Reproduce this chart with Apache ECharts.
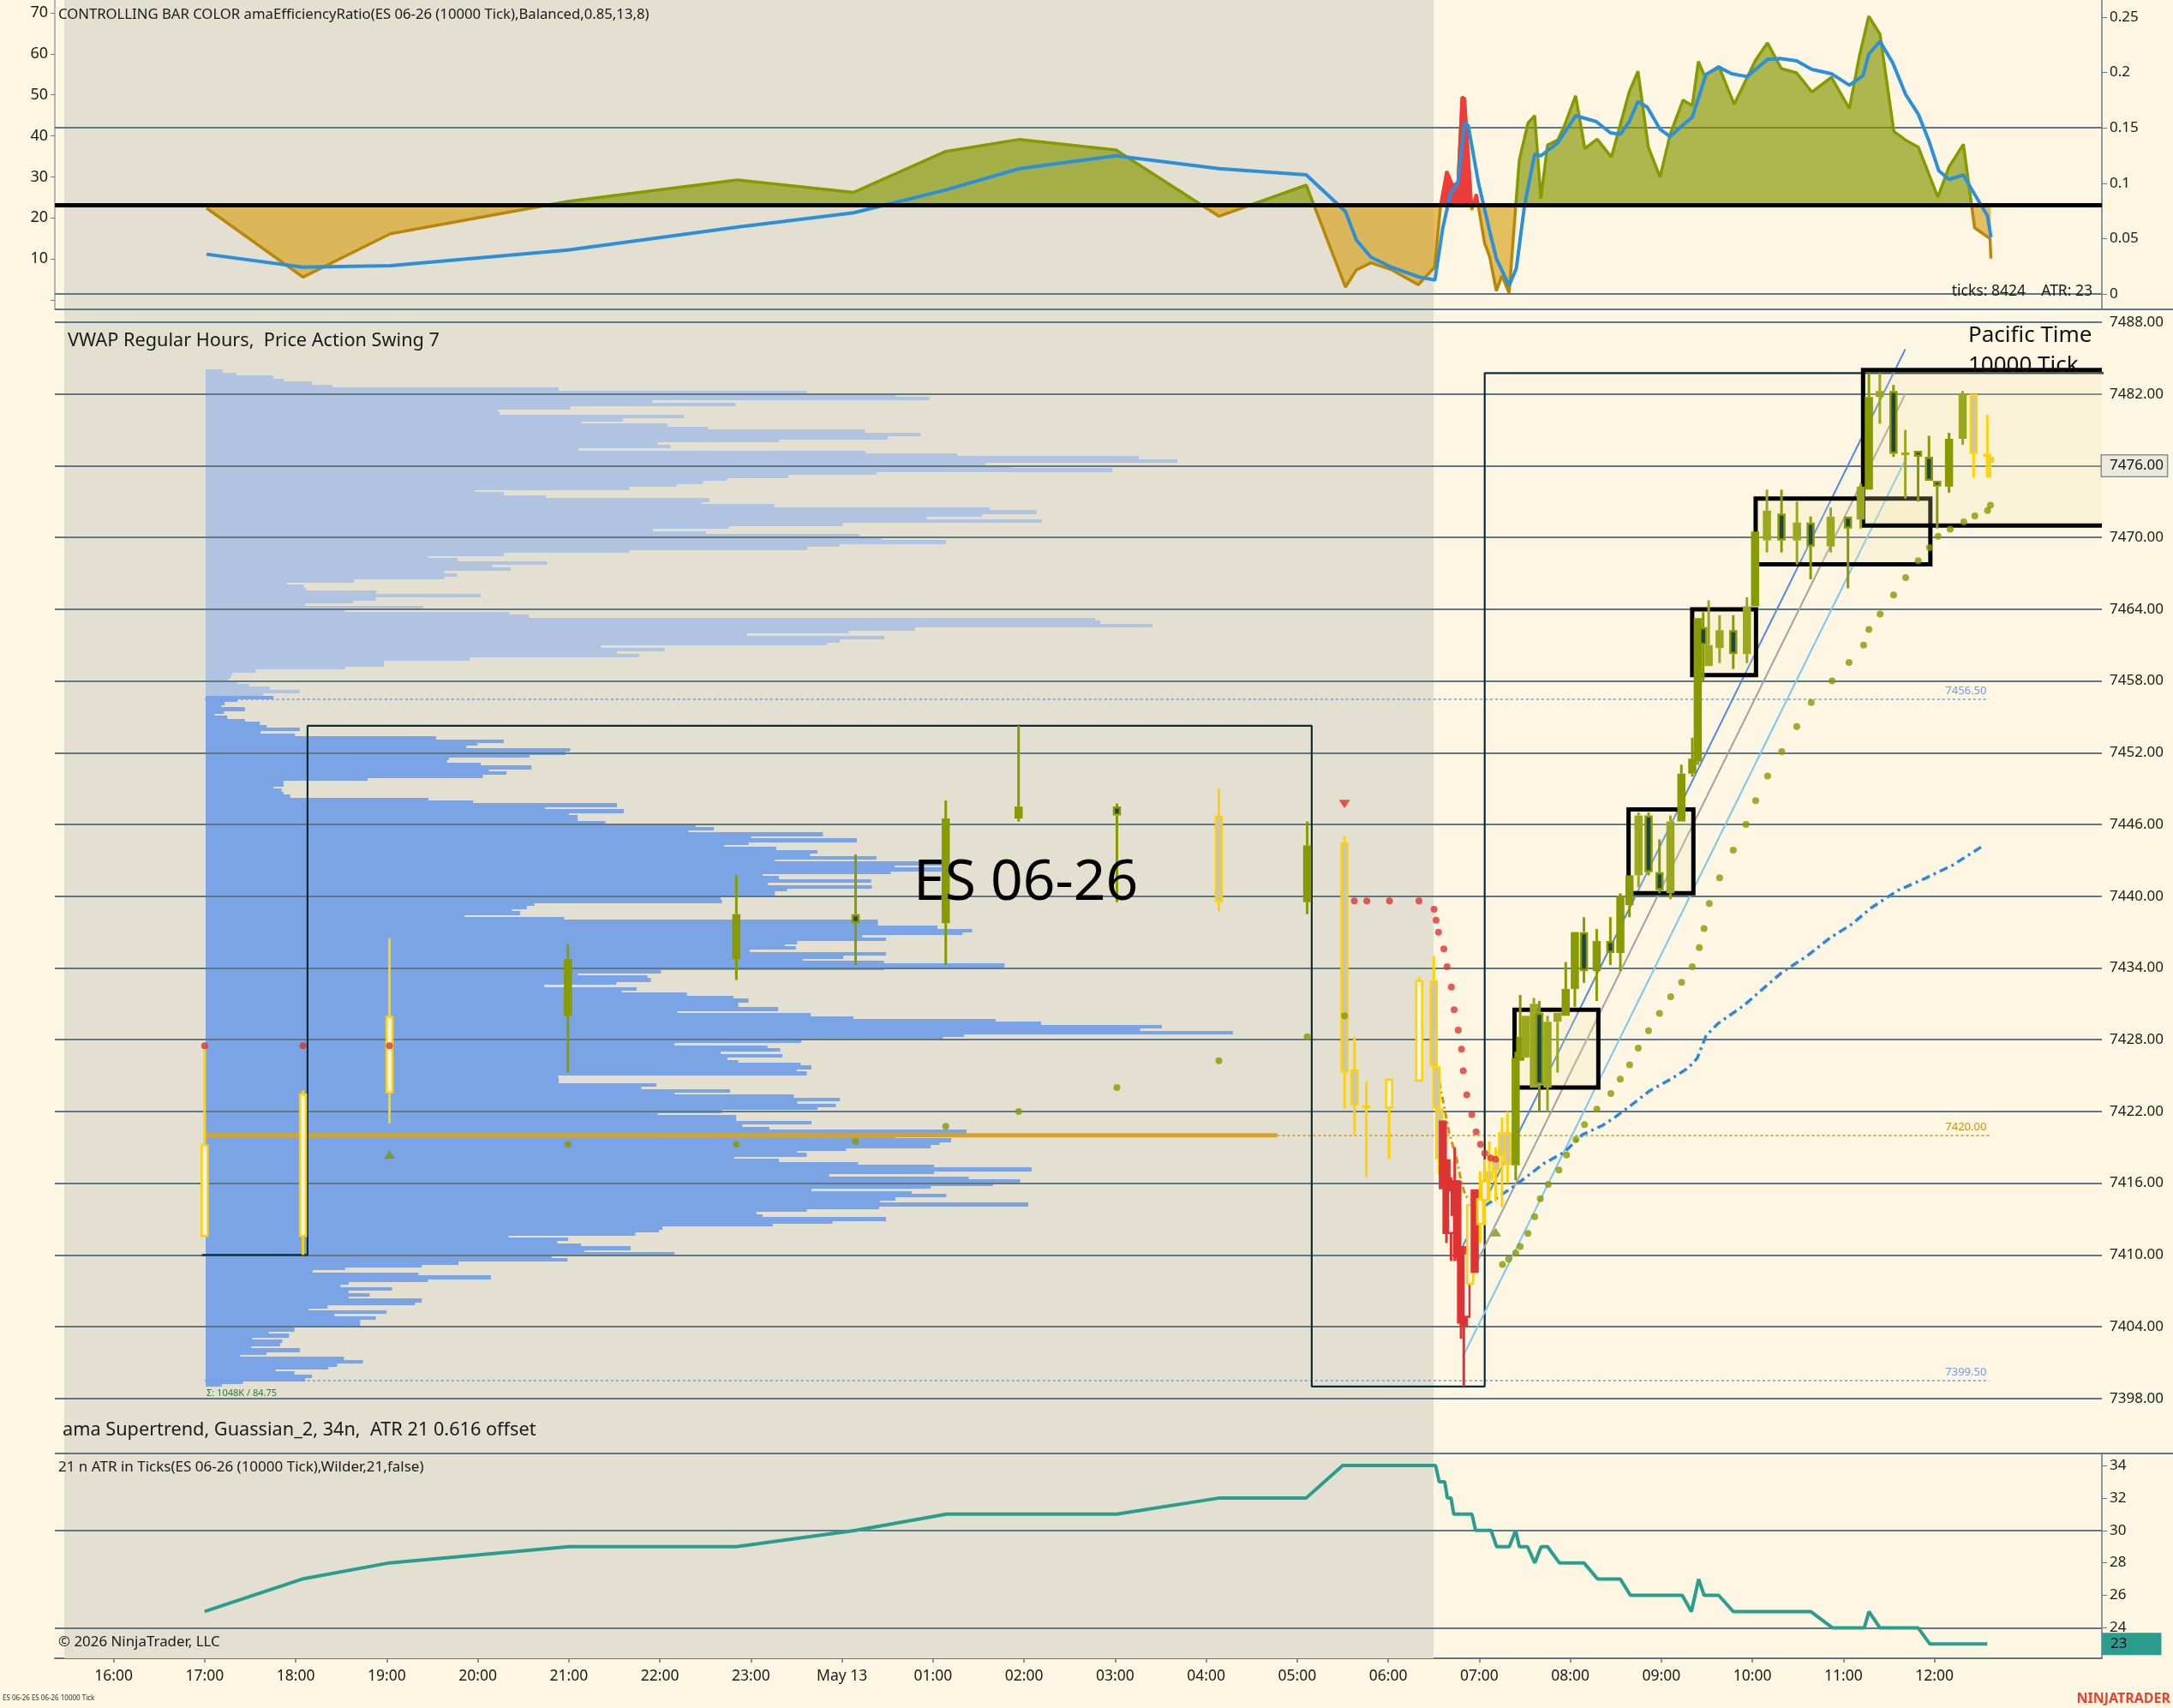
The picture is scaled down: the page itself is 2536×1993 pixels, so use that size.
<!DOCTYPE html>
<html><head><meta charset="utf-8">
<script src="https://cdn.jsdelivr.net/npm/echarts@6/dist/echarts.min.js"></script>
<style>html,body{margin:0;padding:0;background:#FDF6E3;}#c{width:2536px;height:1993px;}</style>
</head><body><div id="c"></div>
<script>
// ---------------- DATA ----------------
const hourTicks = [16,17,18,19,20,21,22,23,24,25,26,27,28,29,30,31,32,33,34,35,36];
const priceTicks = [7398,7404,7410,7416,7422,7428,7434,7440,7446,7452,7458,7464,7470,7476,7482,7488];
const erTicks = [0,0.05,0.1,0.15,0.2,0.25];
const erLeftTicks = [0,10,20,30,40,50,60,70];
const erLeftLabels = [10,20,30,40,50,60,70];
const atrTicks = [24,26,28,30,32,34];
const ER_THRESHOLD = 0.082;
const RED_PERIOD = [30.57, 31.06];
const SESSION_GRAY = [15.458, 30.5];

// efficiency ratio [time(h), value]
const erData = [[17.02,0.0776],[18.08,0.0152],[19.04,0.0544],[20.99,0.0836],[22.85,0.103],[24.13,0.0918],[25.14,0.1287],[25.95,0.1396],[27.01,0.130],[28.14,0.0702],[29.10,0.0983],[29.53,0.0062],[29.65,0.0217],[29.81,0.0281],[30.04,0.0217],[30.33,0.0083],[30.51,0.0242],[30.575,0.0797],[30.643,0.1107],[30.71,0.0978],[30.766,0.1004],[30.811,0.1778],[30.839,0.1765],[30.918,0.0759],[30.968,0.090],[31.058,0.0462],[31.115,0.0333],[31.188,0.0028],[31.249,0.0165],[31.328,0.001],[31.396,0.0745],[31.44,0.121],[31.536,0.1545],[31.609,0.161],[31.677,0.0862],[31.75,0.1344],[31.862,0.139],[31.935,0.1519],[32.059,0.179],[32.16,0.1313],[32.295,0.1398],[32.452,0.1236],[32.649,0.1829],[32.744,0.201],[32.857,0.1326],[32.986,0.1055],[33.098,0.1442],[33.239,0.1752],[33.34,0.170],[33.407,0.21],[33.474,0.1971],[33.632,0.2056],[33.8,0.1713],[34.036,0.2113],[34.166,0.2268],[34.317,0.2036],[34.486,0.1997],[34.654,0.1824],[34.868,0.1958],[35.065,0.1674],[35.177,0.2152],[35.278,0.2508],[35.402,0.2345],[35.554,0.1468],[35.683,0.139],[35.823,0.1326],[36.037,0.0875],[36.16,0.1146],[36.318,0.1352],[36.441,0.0598],[36.61,0.05],[36.62,0.032]];
const erSignal = [[17.02,0.0359],[18.08,0.0242],[19.04,0.0255],[20.99,0.0397],[22.85,0.0604],[24.13,0.0733],[25.14,0.0939],[25.95,0.1132],[27.01,0.1248],[28.14,0.1132],[29.10,0.1076],[29.53,0.0745],[29.65,0.0488],[29.81,0.0333],[30.04,0.024],[30.345,0.0152],[30.513,0.0126],[30.598,0.059],[30.682,0.09],[30.766,0.1004],[30.839,0.1545],[30.879,0.152],[30.991,0.1004],[31.115,0.0565],[31.188,0.032],[31.328,0.0075],[31.407,0.023],[31.497,0.0797],[31.609,0.1262],[31.677,0.1248],[31.862,0.1364],[32.059,0.161],[32.283,0.1558],[32.441,0.1455],[32.553,0.1442],[32.649,0.1558],[32.744,0.1739],[32.845,0.1687],[32.986,0.1488],[33.098,0.1422],[33.211,0.1507],[33.34,0.1597],[33.407,0.1765],[33.491,0.1984],[33.632,0.2048],[33.772,0.1989],[33.941,0.1963],[34.166,0.2118],[34.306,0.2126],[34.486,0.2105],[34.654,0.2028],[34.868,0.1989],[35.065,0.1886],[35.216,0.1971],[35.278,0.2165],[35.402,0.2281],[35.542,0.2087],[35.683,0.1803],[35.823,0.1623],[35.936,0.139],[36.048,0.1112],[36.16,0.1035],[36.318,0.1074],[36.441,0.09],[36.582,0.0707],[36.621,0.0513]];

// candles: [time(h), open, high, low, close, kind]  kind: 0 olive,1 light olive,2 dark-body,3 yellow/gray,4 yellow hollow,5 red,6 red hollow
const candles = [
[17.00,7411.5,7427.5,7411.5,7419.25,4],[18.08,7411.5,7423.75,7410.0,7423.5,4],[19.03,7423.5,7436.5,7421.0,7430.0,4],
[20.99,7430.0,7436.0,7425.25,7434.75,0],[22.84,7434.75,7441.75,7433.0,7438.5,0],[24.15,7438.5,7443.5,7434.25,7437.75,2],
[25.14,7437.75,7448.0,7434.25,7446.5,0],[25.94,7446.5,7454.25,7446.25,7447.5,0],[27.02,7447.5,7447.75,7439.5,7446.75,2],
[28.14,7446.75,7449.0,7438.75,7439.5,3],[29.11,7439.5,7446.25,7438.5,7444.25,0],[29.52,7444.5,7445.0,7422.25,7425.25,3],
[29.63,7425.5,7428.25,7420.0,7422.5,3],[29.76,7422.5,7424.5,7416.5,7422.25,3],[30.01,7422.25,7424.75,7418.0,7424.75,4],
[30.34,7424.5,7433.25,7424.5,7433.0,4],[30.50,7433.0,7435.0,7425.5,7425.75,3],[30.53,7425.75,7427.75,7422.0,7422.25,3],
[30.56,7422.25,7422.25,7416.75,7418.0,3],[30.60,7421.25,7421.25,7415.5,7415.5,5],[30.64,7418.0,7418.0,7411.0,7411.75,5],
[30.69,7411.75,7416.5,7409.5,7415.5,6],[30.73,7416.25,7419.0,7409.5,7413.25,5],[30.76,7416.25,7416.25,7409.5,7409.75,5],
[30.80,7410.75,7410.75,7403.0,7404.25,5],[30.83,7404.75,7404.75,7399.0,7404.0,5],[30.86,7404.75,7410.75,7404.0,7410.25,6],
[30.90,7407.5,7414.25,7407.5,7414.25,4],[30.95,7415.5,7415.5,7408.5,7408.5,5],[31.01,7412.5,7417.0,7411.0,7414.75,4],
[31.06,7414.5,7418.0,7412.5,7416.25,4],[31.11,7417.0,7419.5,7414.5,7416.25,3],[31.18,7418.0,7419.0,7414.5,7417.0,3],
[31.25,7420.25,7421.5,7414.0,7418.25,3],[31.31,7420.25,7422.0,7416.0,7417.5,3],[31.40,7417.5,7427.0,7416.25,7426.5,0],
[31.45,7426.25,7431.75,7426.25,7428.25,0],[31.51,7426.5,7430.0,7426.5,7430.0,1],[31.60,7424.0,7431.5,7424.0,7431.0,1],
[31.66,7430.25,7431.25,7422.0,7424.25,2],[31.75,7424.0,7430.0,7422.0,7429.5,1],[31.86,7429.5,7430.25,7425.25,7430.25,1],
[31.95,7430.0,7434.5,7430.0,7432.25,0],[32.05,7432.25,7437.0,7430.75,7437.0,0],[32.15,7437.0,7438.25,7432.75,7433.75,2],
[32.29,7433.75,7437.25,7431.25,7436.25,0],[32.44,7436.25,7438.25,7434.25,7435.25,2],[32.55,7435.25,7440.25,7433.75,7440.0,0],
[32.65,7439.25,7441.75,7438.25,7441.75,0],[32.75,7441.75,7447.0,7440.75,7446.75,1],[32.86,7446.75,7447.0,7441.75,7442.0,2],
[32.98,7442.0,7444.75,7440.25,7440.5,2],[33.10,7440.25,7446.75,7439.75,7446.25,1],[33.22,7446.25,7451.0,7446.25,7450.25,0],
[33.34,7450.25,7453.25,7450.0,7451.5,0],[33.40,7451.25,7463.25,7451.0,7463.25,0],[33.46,7462.5,7463.75,7458.0,7461.0,2],
[33.52,7459.25,7464.75,7459.25,7461.0,1],[33.64,7460.75,7463.5,7459.5,7462.25,1],[33.79,7462.25,7463.5,7459.0,7460.25,2],
[33.94,7460.25,7465.0,7459.5,7464.25,1],[34.03,7464.25,7470.5,7464.25,7470.5,0],[34.16,7469.75,7474.0,7468.75,7472.25,1],
[34.32,7472.0,7474.0,7468.75,7469.75,2],[34.49,7469.75,7473.0,7467.75,7471.25,1],[34.64,7471.25,7471.75,7466.5,7469.25,2],
[34.86,7469.25,7472.5,7468.75,7471.75,1],[35.05,7471.75,7471.75,7465.75,7470.75,2],[35.19,7471.5,7474.5,7470.75,7474.25,1],
[35.28,7474.0,7483.75,7474.0,7481.75,0],[35.40,7481.75,7483.75,7479.5,7482.25,1],[35.55,7482.25,7482.75,7476.75,7477.0,2],
[35.68,7477.0,7479.0,7473.25,7477.0,1],[35.82,7477.25,7477.25,7473.0,7476.75,2],[35.94,7476.75,7478.5,7474.75,7474.75,2],
[36.03,7474.75,7474.75,7470.75,7474.25,2],[36.16,7474.25,7478.75,7473.75,7478.25,0],[36.31,7478.25,7482.25,7477.75,7482.0,1],
[36.43,7482.0,7482.0,7475.0,7477.0,3],[36.58,7477.0,7480.25,7475.0,7476.75,3],[36.61,7476.75,7476.75,7475.0,7476.25,3]
];

// supertrend dots [time, price]
const stRed = [[17.0,7427.5],[18.08,7427.5],[19.03,7427.5],[29.628,7439.6],[29.765,7439.6],[30.014,7439.6],[30.338,7439.6],[30.503,7438.9],[30.526,7438.0],[30.552,7437.0],[30.611,7435.6],[30.646,7434.1],[30.694,7432.4],[30.724,7430.5],[30.769,7428.8],[30.805,7427.2],[30.824,7425.4],[30.863,7423.4],[30.918,7421.75],[30.966,7420.3],[31.013,7419.25],[31.061,7418.5],[31.126,7418.1],[31.181,7418.0]];
const stOlive = [[20.99,7419.25],[22.84,7419.25],[24.15,7419.5],[25.14,7420.75],[25.94,7422.0],[27.02,7424.0],[28.14,7426.25],[29.11,7428.25],[29.52,7430.0],[31.255,7409.2],[31.323,7409.65],[31.401,7410.15],[31.45,7410.7],[31.534,7411.8],[31.609,7413.2],[31.671,7414.7],[31.758,7415.9],[31.875,7417.1],[31.959,7418.35],[32.062,7419.65],[32.156,7420.9],[32.292,7422.2],[32.445,7423.5],[32.549,7424.7],[32.652,7425.9],[32.746,7427.3],[32.859,7428.75],[32.98,7430.2],[33.103,7431.6],[33.223,7432.8],[33.339,7434.1],[33.417,7435.7],[33.469,7437.3],[33.527,7439.4],[33.64,7441.55],[33.79,7443.85],[33.93,7446.0],[34.036,7448.0],[34.168,7450.05],[34.323,7452.1],[34.488,7454.2],[34.647,7456.2],[34.875,7458.0],[35.062,7459.55],[35.222,7461.0],[35.28,7462.3],[35.403,7463.6],[35.551,7465.2],[35.684,7466.65],[35.822,7468.05],[35.945,7469.15],[36.04,7470.1],[36.173,7470.7],[36.322,7471.3],[36.444,7471.8],[36.583,7472.25],[36.615,7472.7]];
const trendUp = [[19.03,7418.4],[31.18,7411.9]];
const trendDown = [[29.52,7447.7]];
const goldTrail = [[30.56,7424.5],[30.61,7422.6],[30.67,7420.2],[30.75,7418.1],[30.80,7416.2],[30.85,7414.9],[30.93,7414.6]];
const vwap = [[31.061,7414.1],[31.19,7414.75],[31.353,7415.6],[31.514,7416.5],[31.709,7417.65],[31.936,7418.6],[32.131,7420.05],[32.358,7420.85],[32.488,7421.5],[32.681,7422.6],[32.876,7423.75],[33.103,7424.7],[33.297,7425.65],[33.394,7426.45],[33.492,7428.35],[33.622,7429.35],[33.913,7430.9],[34.107,7432.2],[34.328,7433.65],[34.6,7435.0],[34.85,7436.5],[35.1,7437.7],[35.3,7439.0],[35.6,7440.5],[35.9,7441.5],[36.2,7442.6],[36.55,7444.3]];
const swingPath = [[16.97,7410.0],[18.13,7410.0],[18.13,7454.25],[29.16,7454.25],[29.16,7399.0],[31.06,7399.0],[31.06,7483.75],[38.5,7483.75]];
const channelUpper = [[30.82,7410.75],[35.68,7485.75]];
const channelMid = [[30.82,7407.0],[35.68,7482.0]];
const channelLower = [[30.82,7401.5],[35.68,7476.5]];
// consolidation boxes [tStart, tEnd, priceTop, priceBottom]
const boxes = [[31.388,32.308,7430.5,7424.0],[32.64,33.352,7447.25,7440.25],[33.339,34.04,7464.0,7458.5],[34.036,35.955,7473.25,7467.75],[35.216,38.5,7484.0,7471.0]];

// volume profile (rows top to bottom)
const PROFILE_START = 17.0;
const LIGHT_RANGE = [7484.0, 7456.75];
const VA_RANGE = [7456.75, 7399.0];
const lightVol = [25,45,100,115,157,187,521,887,1019,1068,659,782,538,431,434,706,616,554,682,741,973,1055,1007,846,667,686,550,974,1109,1377,1434,1151,1188,1338,990,860,770,734,695,625,397,440,502,743,732,839,1157,1226,1146,1064,1234,940,772,660,738,965,998,1092,936,888,625,440,329,372,504,423,450,352,371,352,219,120,145,148,252,406,251,218,147,321,205,448,477,1313,1320,1397,1047,949,799,1002,936,917,583,677,607,640,390,263,263,206,74,39,37,34,46,64,95,139,85];
const vaVol = [100,47,28,23,58,27,13,32,58,80,90,139,81,132,340,440,401,385,538,531,478,359,356,406,481,418,444,409,239,115,115,100,112,115,125,329,395,607,501,617,536,549,549,590,723,750,712,911,805,961,801,765,842,903,892,990,840,1093,1017,1086,1011,822,846,982,830,983,858,840,840,760,762,485,474,452,464,382,529,992,992,1080,1131,1117,969,1004,873,855,871,803,1004,941,881,1001,1179,1001,672,549,652,657,606,500,636,614,710,779,801,786,786,845,696,893,956,1166,1233,1411,1379,1516,1119,1088,879,692,829,848,760,851,770,786,878,894,872,887,520,521,521,665,643,774,692,868,936,873,930,903,762,667,783,783,894,792,832,1123,1123,1018,1100,1083,1070,945,873,887,780,846,963,1075,1219,1075,920,1126,1202,1162,1070,894,1042,1093,1018,995,1214,994,887,813,822,1004,925,837,674,669,634,447,535,519,554,627,559,692,511,534,373,319,206,158,314,421,328,211,199,275,211,242,211,319,309,180,152,267,190,251,228,228,117,131,93,123,69,113,110,67,139,90,51,204,232,194,181,103,131,157,147,55,24];
const VAH = 7456.5, VAL = 7399.5, POC = 7420.0, POC_DEV_END = 28.78, LEVELS_END = 36.6;
const LAST_PRICE = 7476.00;

// ATR in ticks [time, value]
const atrData = [[17.0,25],[18.07,27],[19.03,28],[21.0,29],[22.84,29],[24.15,30],[25.15,31],[27.02,31],[28.15,32],[29.1,32],[29.5,34],[30.52,34],[30.56,33],[30.62,33],[30.65,32],[30.69,32],[30.72,31],[30.92,31],[30.96,30],[31.13,30],[31.19,29],[31.33,29],[31.40,30],[31.44,29],[31.53,29],[31.61,28],[31.68,29],[31.75,29],[31.88,28],[32.15,28],[32.3,27],[32.55,27],[32.66,26],[33.23,26],[33.33,25],[33.41,27],[33.47,26],[33.63,26],[33.79,25],[34.64,25],[34.88,24],[35.23,24],[35.28,25],[35.40,24],[35.82,24],[35.95,23],[36.58,23]];
const ATR_LAST = 23;

// ---------------- STYLE / LAYOUT ----------------
const FONT = '"Noto Sans", "DejaVu Sans", sans-serif';
const SLATE = '#607884';
const GRAY = '#E3E0D2';
const X_MIN = 15.3544, X_MAX = 37.839;
const ER_MIN = -0.01393, ER_MAX = 0.26548;
const ERL_MIN = -2.2985, ERL_MAX = 73.134;
const P_MIN = 7393.40, P_MAX = 7489.075;
const A_MIN = 22.121, A_MAX = 34.739;
const VOL_MIN = -222.55, VOL_MAX = 2798.3;
const CLEAR = 'rgba(0,0,0,0)';

const CANDLE_STYLE = {
  0:{fill:'#879A00',stroke:null,sw:0,wick:'#879A00'},
  1:{fill:'#9AA820',stroke:null,sw:0,wick:'#9AA820'},
  2:{fill:'#1F4547',stroke:'#879A00',sw:2.5,wick:'#879A00'},
  3:{fill:'#C4C4C4',stroke:'#FFD200',sw:2.5,wick:'#FFD200'},
  4:{fill:'#F6F2E6',stroke:'#FFD200',sw:2.5,wick:'#FFD200'},
  5:{fill:'#DD3333',stroke:null,sw:0,wick:'#DD3333'},
  6:{fill:'#F8F4F0',stroke:'#DD3333',sw:2.5,wick:'#DD3333'}
};

function profileRows(vols, range, kind){
  const step = (range[0]-range[1])/vols.length;
  return vols.map((v,i)=>[v, range[0]-i*step, range[0]-(i+1)*step, kind]);
}
const profileData = profileRows(lightVol, LIGHT_RANGE, 0).concat(profileRows(vaVol, VA_RANGE, 1));
const redSpike = erData.filter(d=>d[0]>=RED_PERIOD[0] && d[0]<=RED_PERIOD[1]);

function renderProfile(params, api){
  const a = api.coord([0, api.value(1)]);
  const b = api.coord([api.value(0), api.value(2)]);
  return {type:'rect', shape:{x:a[0], y:Math.floor(a[1]), width:b[0]-a[0], height:Math.max(1, Math.ceil(b[1])-Math.floor(a[1]))},
    style:{fill: api.value(3)===0 ? '#B0C3E1' : '#7BA4E7'}};
}
function renderCandle(params, api){
  const t=api.value(0), o=api.value(1), h=api.value(2), l=api.value(3), c=api.value(4);
  const st = CANDLE_STYLE[api.value(5)];
  const pO=api.coord([t,o]), x=pO[0];
  const yO=pO[1], yC=api.coord([t,c])[1], yH=api.coord([t,h])[1], yL=api.coord([t,l])[1];
  let top=Math.min(yO,yC), bot=Math.max(yO,yC);
  if (bot-top<3){const m=(top+bot)/2; top=m-1.5; bot=m+1.5;}
  const bw=9.5, ww=3;
  const ch=[];
  if (top-yH>0.5) ch.push({type:'rect',shape:{x:x-ww/2,y:yH,width:ww,height:top-yH},style:{fill:st.wick}});
  if (yL-bot>0.5) ch.push({type:'rect',shape:{x:x-ww/2,y:bot,width:ww,height:yL-bot},style:{fill:st.wick}});
  if (st.sw>0){
    ch.push({type:'rect',shape:{x:x-bw/2+st.sw/2,y:top+st.sw/2,width:bw-st.sw,height:Math.max(0.5,bot-top-st.sw)},style:{fill:st.fill,stroke:st.stroke,lineWidth:st.sw}});
  } else {
    ch.push({type:'rect',shape:{x:x-bw/2,y:top,width:bw,height:bot-top},style:{fill:st.fill}});
  }
  return {type:'group',children:ch};
}
function renderBox(params, api){
  const a = api.coord([api.value(0), api.value(2)]);
  const b = api.coord([api.value(1), api.value(3)]);
  return {type:'rect', shape:{x:a[0], y:a[1], width:b[0]-a[0], height:b[1]-a[1]},
    style:{fill:'rgba(240,226,175,0.22)', stroke:'#000', lineWidth:5}};
}

const axisLabelBase = {fontFamily:FONT, color:'#1a1a1a', fontSize:17};
const hiddenX = (g)=>({type:'value', gridIndex:g, min:X_MIN, max:X_MAX, show:false});

const option = {
  animation:false,
  backgroundColor:'#FDF6E3',
  grid:[
    {left:64, right:83, top:0, height:361},
    {left:64, right:83, top:361, height:1335},
    {left:64, right:83, top:1696, height:239}
  ],
  xAxis:[
    hiddenX(0), hiddenX(1),
    {type:'value', gridIndex:1, min:VOL_MIN, max:VOL_MAX, show:false},
    {type:'value', gridIndex:2, min:X_MIN, max:X_MAX,
      axisLine:{show:true, lineStyle:{color:SLATE, width:2}},
      axisTick:{show:true, customValues:hourTicks, length:5, lineStyle:{color:SLATE, width:1.5}},
      axisLabel:Object.assign({}, axisLabelBase, {customValues:hourTicks, margin:12, fontSize:17.5,
        formatter:v=> v===24 ? 'May 13' : String(v%24).padStart(2,'0')+':00'}),
      splitLine:{show:false}}
  ],
  yAxis:[
    {type:'value', gridIndex:0, position:'right', min:ER_MIN, max:ER_MAX,
      axisLine:{show:true, lineStyle:{color:SLATE, width:1.5}},
      axisTick:{show:true, customValues:erTicks, length:6, lineStyle:{color:SLATE}},
      axisLabel:Object.assign({}, axisLabelBase, {customValues:erTicks, margin:9, formatter:v=>String(+v.toFixed(2))}),
      splitLine:{show:false}},
    {type:'value', gridIndex:0, position:'left', min:ERL_MIN, max:ERL_MAX,
      axisLine:{show:true, lineStyle:{color:'#9AA3A8', width:1.5}},
      axisTick:{show:true, customValues:erLeftTicks, length:5, lineStyle:{color:'#6d7b82'}},
      axisLabel:Object.assign({}, axisLabelBase, {customValues:erLeftLabels, margin:8, fontSize:18}),
      splitLine:{show:false}},
    {type:'value', gridIndex:1, position:'right', min:P_MIN, max:P_MAX,
      axisLine:{show:true, lineStyle:{color:SLATE, width:1.5}},
      axisTick:{show:true, customValues:priceTicks, length:6, lineStyle:{color:SLATE}},
      axisLabel:Object.assign({}, axisLabelBase, {customValues:priceTicks, margin:9, formatter:v=>v.toFixed(2)}),
      splitLine:{show:false}},
    {type:'value', gridIndex:2, position:'right', min:A_MIN, max:A_MAX,
      axisLine:{show:true, lineStyle:{color:SLATE, width:1.5}},
      axisTick:{show:true, customValues:atrTicks, length:6, lineStyle:{color:SLATE}},
      axisLabel:Object.assign({}, axisLabelBase, {customValues:atrTicks, margin:9}),
      splitLine:{show:false}}
  ],
  visualMap:[
    {type:'piecewise', show:false, seriesIndex:0, dimension:1,
      pieces:[{gte:-1, lte:ER_THRESHOLD, color:'rgba(216,161,25,0.66)'},{gt:ER_THRESHOLD, lte:1, color:'rgba(132,150,0,0.66)'}]},
    {type:'piecewise', show:false, seriesIndex:1, dimension:1,
      pieces:[{gte:-1, lte:ER_THRESHOLD, color:'#B8860B'},{gt:ER_THRESHOLD, lte:1, color:'#849A00'}]},
    {type:'piecewise', show:false, seriesIndex:2, dimension:1,
      pieces:[{gte:-1, lte:ER_THRESHOLD, color:CLEAR},{gt:ER_THRESHOLD, lte:1, color:'#EE3B3B'}]}
  ],
  series:[
    // 0 ER area
    {type:'line', xAxisIndex:0, yAxisIndex:0, data:erData, symbol:'none', z:2,
      lineStyle:{width:0}, areaStyle:{origin:ER_THRESHOLD, opacity:1},
      markArea:{silent:true, itemStyle:{color:GRAY}, data:[[{xAxis:SESSION_GRAY[0]},{xAxis:SESSION_GRAY[1]}]]},
      markLine:{silent:true, symbol:'none', z:1.5, label:{show:false}, lineStyle:{color:SLATE, width:2, type:'solid'},
        data:[{yAxis:0},{yAxis:0.15}]}},
    // 1 ER line
    {type:'line', xAxisIndex:0, yAxisIndex:0, data:erData, symbol:'none', z:3, lineStyle:{width:3.5}},
    // 2 red spike
    {type:'line', xAxisIndex:0, yAxisIndex:0, data:redSpike, symbol:'none', z:3.5, lineStyle:{width:3.5},
      areaStyle:{origin:ER_THRESHOLD, opacity:1}},
    // 3 signal
    {type:'line', xAxisIndex:0, yAxisIndex:0, data:erSignal, symbol:'none', z:4,
      lineStyle:{color:'#2C8FD9', width:4}, itemStyle:{color:'#2C8FD9'},
      markLine:{silent:true, symbol:'none', z:6, label:{show:false}, lineStyle:{color:'#000', width:5, type:'solid'},
        data:[{yAxis:ER_THRESHOLD}]}},
    // 4 volume profile
    {type:'custom', xAxisIndex:2, yAxisIndex:2, data:profileData, renderItem:renderProfile, z:2, silent:true,
      encode:{x:0, y:[1,2]}},
    // 5 POC developing line + grid lines + gray
    {type:'line', xAxisIndex:1, yAxisIndex:2, data:[[PROFILE_START,POC],[POC_DEV_END,POC]], symbol:'none', z:3.2,
      lineStyle:{color:'#D4A32A', width:5},
      markArea:{silent:true, itemStyle:{color:GRAY}, data:[[{xAxis:SESSION_GRAY[0]},{xAxis:SESSION_GRAY[1]}]]},
      markLine:{silent:true, symbol:'none', z:3, label:{show:false}, lineStyle:{color:SLATE, width:2, type:'solid'},
        data:priceTicks.map(p=>({yAxis:p}))}},
    // 6 value-area / POC level lines with labels
    {type:'line', xAxisIndex:1, yAxisIndex:2, data:[[PROFILE_START,VAH]], symbol:'none', z:3.3, lineStyle:{width:0},
      markLine:{silent:true, symbol:'none', z:3.3,
        data:[
          [{coord:[PROFILE_START,VAH], lineStyle:{color:'#6F9BE8', width:1.5, type:[3,3]},
            label:{show:true, position:'insideEndTop', formatter:VAH.toFixed(2), color:'#6F9BE8', fontSize:13, fontFamily:FONT, distance:3}},
           {coord:[LEVELS_END,VAH]}],
          [{coord:[PROFILE_START,VAL], lineStyle:{color:'#6F9BE8', width:1.5, type:[3,3]},
            label:{show:true, position:'insideEndTop', formatter:VAL.toFixed(2), color:'#6F9BE8', fontSize:13, fontFamily:FONT, distance:3}},
           {coord:[LEVELS_END,VAL]}],
          [{coord:[POC_DEV_END,POC], lineStyle:{color:'#C8960C', width:1.5, type:[3,3]},
            label:{show:true, position:'insideEndTop', formatter:POC.toFixed(2), color:'#C8960C', fontSize:13, fontFamily:FONT, distance:3}},
           {coord:[LEVELS_END,POC]}]
        ]}},
    // 7 swing lines
    {type:'line', xAxisIndex:1, yAxisIndex:2, data:swingPath, symbol:'none', z:3.4, clip:true,
      lineStyle:{color:'#0E2C35', width:2.2}},
    // 8-10 regression channel
    {type:'line', xAxisIndex:1, yAxisIndex:2, data:channelUpper, symbol:'none', z:3.5, lineStyle:{color:'#4A86E8', width:2}},
    {type:'line', xAxisIndex:1, yAxisIndex:2, data:channelMid, symbol:'none', z:3.5, lineStyle:{color:'#A3A3A3', width:2}},
    {type:'line', xAxisIndex:1, yAxisIndex:2, data:channelLower, symbol:'none', z:3.5, lineStyle:{color:'#7CC7EE', width:2}},
    // 11 gold trail, 12 vwap
    {type:'line', xAxisIndex:1, yAxisIndex:2, data:goldTrail, symbol:'none', z:3.6, lineStyle:{color:'#C8960C', width:3, type:[8,4,2,4]}},
    {type:'line', xAxisIndex:1, yAxisIndex:2, data:vwap, symbol:'none', z:3.6, lineStyle:{color:'#2E86DE', width:3.5, type:[10,5,3,5]}},
    // 13 boxes
    {type:'custom', xAxisIndex:1, yAxisIndex:2, data:boxes, renderItem:renderBox, z:3.8, clip:true, silent:true,
      encode:{x:[0,1], y:[2,3]}},
    // 14 candles
    {type:'custom', xAxisIndex:1, yAxisIndex:2, data:candles, renderItem:renderCandle, z:5, silent:true,
      encode:{x:0, y:[1,2,3,4]}},
    // 15-16 supertrend dots
    {type:'scatter', xAxisIndex:1, yAxisIndex:2, data:stRed, symbolSize:8, z:6, itemStyle:{color:'#DD3333'}, silent:true},
    {type:'scatter', xAxisIndex:1, yAxisIndex:2, data:stOlive, symbolSize:8, z:6, itemStyle:{color:'#879A00'}, silent:true},
    // 17-18 trend markers
    {type:'scatter', xAxisIndex:1, yAxisIndex:2, data:trendUp, symbol:'triangle', symbolSize:[13,10], z:6, itemStyle:{color:'#6E9A10'}, silent:true},
    {type:'scatter', xAxisIndex:1, yAxisIndex:2, data:trendDown, symbol:'triangle', symbolRotate:180, symbolSize:[13,10], z:6, itemStyle:{color:'#E03030'}, silent:true},
    // 19 last price tag
    {type:'line', xAxisIndex:1, yAxisIndex:2, data:[[X_MAX,LAST_PRICE]], symbol:'none', lineStyle:{width:0}, z:7,
      markLine:{silent:true, symbol:'none', z:7, lineStyle:{color:CLEAR, width:0},
        data:[{yAxis:LAST_PRICE, label:{show:true, position:'end', distance:0, formatter:LAST_PRICE.toFixed(2),
          backgroundColor:'#ECE9DE', borderColor:'#8d8d8d', borderWidth:1.5, padding:[4,4,3,9],
          color:'#111', fontSize:17, fontFamily:FONT}}]}},
    // 20 ATR
    {type:'line', xAxisIndex:3, yAxisIndex:3, data:atrData, symbol:'none', z:3,
      lineStyle:{color:'#2A9D8F', width:4}, itemStyle:{color:'#2A9D8F'},
      markArea:{silent:true, itemStyle:{color:GRAY}, data:[[{xAxis:SESSION_GRAY[0]},{xAxis:SESSION_GRAY[1]}]]},
      markLine:{silent:true, symbol:'none', z:2, label:{show:false}, lineStyle:{color:SLATE, width:2, type:'solid'},
        data:[{yAxis:24},{yAxis:30},
          {yAxis:ATR_LAST, lineStyle:{color:CLEAR, width:0}, label:{show:true, position:'end', distance:0, formatter:String(ATR_LAST),
            backgroundColor:'#2A9D8F', padding:[5,40,4,10], color:'#111', fontSize:17, fontFamily:FONT}}]}}
  ],
  graphic:[
    {type:'line', z:20, shape:{x1:64,y1:361,x2:2536,y2:361}, style:{stroke:SLATE, lineWidth:2}},
    {type:'line', z:20, shape:{x1:64,y1:1696,x2:2536,y2:1696}, style:{stroke:SLATE, lineWidth:2}},
    {type:'text', z:20, x:68, y:17, style:{text:'CONTROLLING BAR COLOR amaEfficiencyRatio(ES 06-26 (10000 Tick),Balanced,0.85,13,8)', fontSize:16.7, fontFamily:FONT, fill:'#1a1a1a', verticalAlign:'middle'}},
    {type:'text', z:20, x:2442, y:340, style:{text:'ticks: 8424    ATR: 23', fontSize:17.5, fontFamily:FONT, fill:'#1a1a1a', align:'right', verticalAlign:'middle'}},
    {type:'text', z:20, x:79, y:398, style:{text:'VWAP Regular Hours,  Price Action Swing 7', fontSize:21.7, fontFamily:FONT, fill:'#1a1a1a', verticalAlign:'middle'}},
    {type:'text', z:20, x:2297, y:392, style:{text:'Pacific Time', fontSize:26, fontFamily:FONT, fill:'#111', verticalAlign:'middle'}},
    {type:'text', z:20, x:2297, y:427, style:{text:'10000 Tick', fontSize:26, fontFamily:FONT, fill:'#111', verticalAlign:'middle'}},
    {type:'text', z:20, x:1066, y:1031, style:{text:'ES 06-26', fontSize:66, fontFamily:FONT, fill:'#000', verticalAlign:'middle'}},
    {type:'text', z:20, x:241, y:1626, style:{text:'\u03A3: 1048K / 84.75', fontSize:11, fontFamily:FONT, fill:'#2E7D32', verticalAlign:'middle'}},
    {type:'text', z:20, x:73, y:1669, style:{text:'ama Supertrend, Guassian_2, 34n,  ATR 21 0.616 offset', fontSize:21.7, fontFamily:FONT, fill:'#1a1a1a', verticalAlign:'middle'}},
    {type:'text', z:20, x:68, y:1712, style:{text:'21 n ATR in Ticks(ES 06-26 (10000 Tick),Wilder,21,false)', fontSize:17, fontFamily:FONT, fill:'#1a1a1a', verticalAlign:'middle'}},
    {type:'text', z:20, x:68, y:1916, style:{text:'\u00A9 2026 NinjaTrader, LLC', fontSize:16.9, fontFamily:FONT, fill:'#1a1a1a', verticalAlign:'middle'}},
    {type:'text', z:20, x:3, y:1982, style:{text:'ES 06-26 ES 06-26 10000 Tick', fontSize:8, fontFamily:FONT, fill:'#333', verticalAlign:'middle'}},
    {type:'text', z:20, x:2533, y:1982, style:{text:'NINJATRADER', fontSize:16, fontWeight:'bold', fontFamily:FONT, fill:'#E8432E', align:'right', verticalAlign:'middle'}}
  ]
};
const chart = echarts.init(document.getElementById('c'), null, {width:2536, height:1993});
chart.setOption(option);
</script></body></html>
